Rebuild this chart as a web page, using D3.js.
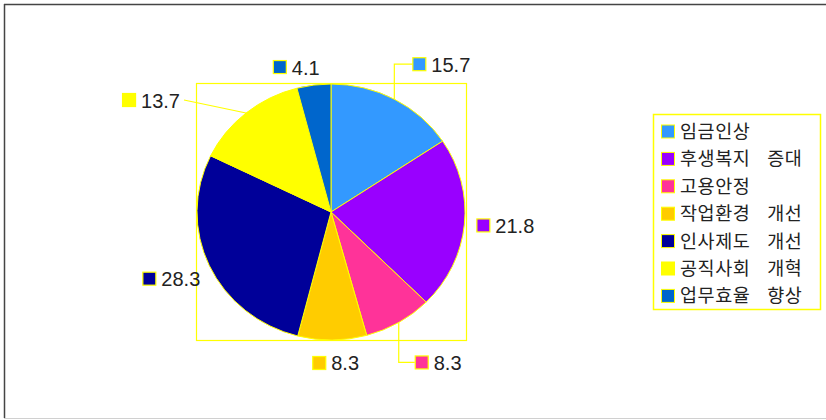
<!DOCTYPE html>
<html>
<head>
<meta charset="utf-8">
<script src="https://cdn.jsdelivr.net/npm/d3@7"></script>
<style>
  html, body { margin: 0; padding: 0; background: #fff; }
  svg { display: block; }
  .legend-text { font-family: 'Noto Sans CJK KR', sans-serif; font-size: 18.5px; letter-spacing: 0.6px; word-spacing: 12px; }
</style>
</head>
<body>
<svg id="chart" width="826" height="420"></svg>
<script>
// Survey categories and their shares (%)
const categories = ["임금인상", "후생복지 증대", "고용안정", "작업환경 개선", "인사제도 개선", "공직사회 개혁", "업무효율 향상"];
const values = [15.7, 21.8, 8.3, 8.3, 28.3, 13.7, 4.1];
const colors = ["#3399FF", "#9900FF", "#FF3399", "#FFCC00", "#000099", "#FFFF00", "#0066CC"];

// Label placement relative to each slice's outer edge midpoint: square offset and leader style
const labelLayout = [
  { dx: 18, dy: -35, leader: "elbow" },
  { dx: 12, dy: 1, leader: "none" },
  { dx: 16, dy: 40, leader: "elbow" },
  { dx: -20, dy: 23, leader: "none" },
  { dx: -67, dy: 13, leader: "none" },
  { dx: -124, dy: -13, leader: "straight" },
  { dx: -41, dy: -18, leader: "none" }
];

const svg = d3.select("#chart");
const W = 826, H = 420;

// Sunken frame
svg.append("line").attr("x1", 4).attr("y1", 4.5).attr("x2", W).attr("y2", 4.5)
  .attr("stroke", "#444").attr("stroke-width", 1.5);
svg.append("line").attr("x1", 4.5).attr("y1", 4).attr("x2", 4.5).attr("y2", 418)
  .attr("stroke", "#444").attr("stroke-width", 1.5);
svg.append("line").attr("x1", 4).attr("y1", 418.5).attr("x2", W).attr("y2", 418.5)
  .attr("stroke", "#d0d0d0").attr("stroke-width", 1);

// Plot area frame
svg.append("rect").attr("x", 196.5).attr("y", 83.5).attr("width", 270).attr("height", 257)
  .attr("fill", "none").attr("stroke", "#FFFF00").attr("stroke-width", 1.2);

const cx = 331, cy = 212, rx = 134, ry = 128;

const pie = d3.pie().sort(null).value(d => d)(values);
const arc = d3.arc().innerRadius(0).outerRadius(rx);

const pieG = svg.append("g").attr("transform", `translate(${cx},${cy}) scale(1,${ry / rx})`);
pieG.selectAll("path").data(pie).join("path")
  .attr("d", arc)
  .attr("fill", (d, i) => colors[i])
  .attr("stroke", "#FFFF00")
  .attr("stroke-width", 1)
  .attr("vector-effect", "non-scaling-stroke");

// Data labels
const numFont = "'Liberation Sans', Arial, sans-serif";
const labels = svg.append("g");
pie.forEach((d, i) => {
  const mid = (d.startAngle + d.endAngle) / 2;
  const ex = cx + rx * Math.sin(mid);
  const ey = cy - ry * Math.cos(mid);
  const L = labelLayout[i];
  const sx = ex + L.dx, scy = ey + L.dy;
  const txt = d3.format(".1f")(values[i]);

  const textEl = labels.append("text")
    .attr("x", sx + 19).attr("y", scy + 7.5)
    .attr("font-family", numFont).attr("font-size", 20)
    .attr("fill", "#222").text(txt);

  if (L.leader === "elbow") {
    labels.append("polyline")
      .attr("points", `${ex},${ey} ${ex},${scy} ${sx},${scy}`)
      .attr("fill", "none").attr("stroke", "#FFFF00").attr("stroke-width", 1.2);
  } else if (L.leader === "straight") {
    const tw = textEl.node().getComputedTextLength();
    labels.append("line")
      .attr("x1", ex).attr("y1", ey).attr("x2", sx + 19 + tw + 4).attr("y2", scy)
      .attr("stroke", "#FFFF00").attr("stroke-width", 1.2);
  }

  labels.append("rect")
    .attr("x", sx + 0.5).attr("y", scy - 6.5).attr("width", 13).attr("height", 13)
    .attr("fill", colors[i]).attr("stroke", "#FFFF00").attr("stroke-width", 1.2);
});

// Legend
const legend = svg.append("g");
legend.append("rect").attr("x", 653.5).attr("y", 114.5).attr("width", 167).attr("height", 195)
  .attr("fill", "#fff").attr("stroke", "#FFFF00").attr("stroke-width", 1.5);
categories.forEach((c, i) => {
  const y = 131.5 + i * 27.4;
  legend.append("rect").attr("x", 661.5).attr("y", y - 6.5).attr("width", 13).attr("height", 13)
    .attr("fill", colors[i]).attr("stroke", "#FFFF00").attr("stroke-width", 1);
  legend.append("text").attr("class", "legend-text").attr("x", 680).attr("y", y + 6.5)
    .attr("fill", "#222").text(c);
});
</script>
</body>
</html>
